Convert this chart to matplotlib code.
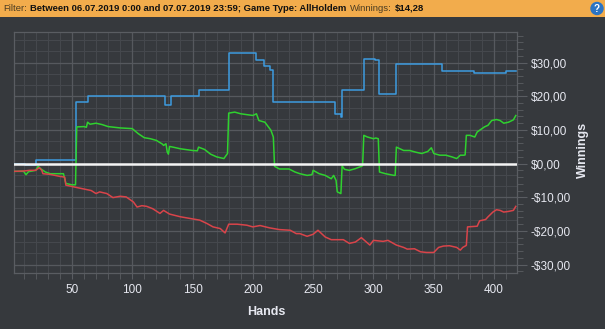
import matplotlib
matplotlib.use("Agg")
import matplotlib.pyplot as plt
import numpy as np
from matplotlib.ticker import FixedLocator, MultipleLocator, NullFormatter
from matplotlib.patches import Circle

# ---- data ----
blue_hands = [2, 11, 20, 53, 63, 127, 132, 155, 180, 203, 209, 214, 217,
              268, 273, 274, 292, 301, 305, 319, 357, 383, 410, 418]
blue_vals = [0.0, -0.3, 1.2, 18.2, 20.2, 17.5, 20.2, 22.0, 33.0, 30.9, 29.0, 27.7, 18.2,
             14.6, 13.8, 22.0, 31.2, 30.7, 20.6, 29.6, 27.4, 26.8, 27.4, 27.6]

green_hands = [2, 10, 12, 14, 20, 22, 24, 28, 32, 43, 45, 50, 53, 54, 60, 62, 63, 65, 70,
               75, 80, 90, 100, 105, 110, 115, 120, 125, 126, 128, 129, 130, 131, 135,
               140, 150, 154, 155, 160, 165, 170, 176, 179, 180, 185, 190, 200, 203, 205,
               210, 215, 217, 218, 222, 230, 235, 239, 245, 249, 250, 255, 260, 265, 267,
               269, 270, 273, 274, 276, 280, 285, 290, 291, 292, 295, 300, 302, 304, 305,
               310, 317, 318, 319, 325, 330, 335, 340, 345, 348, 350, 355, 360, 365, 369,
               372, 375, 376, 377, 380, 384, 386, 390, 392, 395, 398, 402, 405, 408, 412,
               416, 418]
green_vals = [-2.3, -2.3, -3.3, -2.4, -2.0, -0.8, -1.5, -2.5, -3.0, -3.0, -5.9, -6.3, -6.3,
              10.9, 11.0, 10.8, 12.3, 11.7, 12.0, 11.6, 11.0, 10.6, 10.4, 8.9, 7.7, 7.4,
              6.9, 5.8, 5.4, 5.9, 3.5, 2.8, 5.1, 4.8, 4.4, 3.9, 3.8, 4.9, 4.2, 2.8, 2.0,
              1.5, 3.0, 15.0, 15.3, 14.8, 14.3, 14.8, 12.8, 12.3, 9.9, 7.9, -0.8, -1.6,
              -1.6, -2.5, -3.0, -3.5, -3.3, -2.0, -3.0, -3.5, -4.5, -3.5, -5.0, -8.4,
              -8.9, -0.7, -1.7, -2.0, -1.5, -0.8, -0.6, 8.4, 7.9, 7.4, 7.6, 7.4, -2.5,
              -3.0, -3.5, -3.5, 4.9, 3.9, 3.9, 3.4, 3.0, 3.6, 4.7, 3.0, 2.5, 2.5, 2.0,
              1.5, 2.5, 2.5, 2.6, 8.4, 8.4, 7.9, 9.4, 10.4, 10.9, 11.4, 12.8, 13.1, 12.8,
              12.0, 12.3, 13.0, 14.28]

red_hands = [2, 10, 15, 20, 23, 25, 26, 32, 40, 44, 45, 50, 54, 62, 66, 70, 73, 79, 84,
             90, 95, 101, 104, 108, 112, 117, 123, 126, 131, 140, 148, 156, 162, 167,
             173, 177, 180, 187, 195, 200, 206, 214, 222, 231, 236, 239, 245, 250, 254,
             260, 265, 275, 280, 285, 290, 297, 300, 308, 312, 319, 325, 328, 334, 339,
             344, 350, 354, 358, 363, 369, 372, 374, 376, 377, 378, 386, 388, 393, 395,
             399, 402, 405, 408, 412, 416, 418]
red_vals = [-2.3, -2.2, -2.0, -2.0, -1.2, -2.0, -3.0, -3.2, -3.8, -4.0, -6.4, -6.8, -7.1,
            -7.7, -8.0, -8.9, -8.4, -8.9, -10.1, -9.7, -9.9, -11.4, -12.9, -12.5, -12.7,
            -13.4, -14.8, -13.9, -15.0, -15.8, -16.3, -16.8, -17.8, -18.8, -19.3, -20.6,
            -18.0, -18.0, -18.3, -18.8, -18.4, -19.1, -19.6, -19.8, -20.8, -20.8, -21.6,
            -21.0, -19.8, -21.8, -22.6, -22.6, -23.7, -23.3, -22.0, -24.2, -22.8, -23.1,
            -22.8, -24.2, -24.9, -25.4, -25.3, -26.2, -26.4, -26.4, -24.9, -24.5, -24.4,
            -24.9, -25.7, -24.9, -24.5, -24.3, -18.8, -18.6, -17.0, -16.6, -15.8, -14.4,
            -13.7, -13.9, -14.4, -14.2, -13.9, -12.7]

x_ticks = [50, 100, 150, 200, 250, 300, 350, 400]
y_ticks = [-30, -20, -10, 0, 10, 20, 30]
y_labels = ["-$30,00", "-$20,00", "-$10,00", "$0,00", "$10,00", "$20,00", "$30,00"]

header_parts = [("Filter:", "normal", "#4a3c22"),
                ("Between 06.07.2019 0:00 and 07.07.2019 23:59; Game Type: AllHoldem", "bold", "#111111"),
                ("Winnings:", "normal", "#4a3c22"),
                ("$14,28", "bold", "#111111")]

# ---- styling ----
bg = "#36393d"
txt = "#e6e8f0"
plt.rcParams["font.family"] = ["Liberation Sans", "DejaVu Sans"]

W, H = 605, 329
fig = plt.figure(figsize=(W / 100, H / 100), dpi=100, facecolor=bg)

ax = fig.add_axes([14 / W, (H - 273) / H, (517 - 14) / W, (273 - 32) / H])
ax.set_facecolor(bg)

ax.plot(blue_hands, blue_vals, color="#3d9be0", lw=1.1, drawstyle="steps-post", zorder=3)
ax.plot(green_hands, green_vals, color="#2fd12f", lw=1.1, zorder=3)
ax.plot(red_hands, red_vals, color="#d9444a", lw=1.1, zorder=3)
ax.axhline(0, color="#f4f4f4", lw=1.8, zorder=4)

ax.set_xlim(2, 419)
ax.set_ylim(-32.5, 39.1)

ax.xaxis.set_major_locator(FixedLocator(x_ticks))
ax.xaxis.set_minor_locator(MultipleLocator(10))
ax.yaxis.set_major_locator(FixedLocator(y_ticks))
ax.yaxis.set_minor_locator(MultipleLocator(2))
ax.set_yticklabels(y_labels)
ax.xaxis.set_minor_formatter(NullFormatter())
ax.yaxis.set_minor_formatter(NullFormatter())
ax.yaxis.tick_right()

# grid: vertical minor every 10 hands, horizontal minor at thirds of the major step
ax.grid(axis="x", which="minor", color="#45484d", lw=0.8, zorder=0)
ax.grid(which="major", color="#56595e", lw=0.9, zorder=0)
for yv in np.arange(-40, 40, 10 / 3):
    if abs(yv - round(yv / 10) * 10) > 0.1:
        ax.axhline(yv, color="#45484d", lw=0.8, zorder=0)
ax.set_axisbelow(True)

for s in ax.spines.values():
    s.set_color("#5a5d62")
    s.set_linewidth(0.9)

ax.tick_params(axis="both", which="both", colors="#5a5d62", labelcolor=txt, labelsize=8.5)
ax.tick_params(axis="y", which="major", length=7, pad=3)
ax.tick_params(axis="y", which="minor", length=4)
ax.tick_params(axis="x", which="both", length=4, pad=4)

fig.text(266 / W, 1 - 312 / H, "Hands", color=txt, fontsize=9, fontweight="bold",
         ha="center", va="center")
fig.text(583 / W, 1 - 150 / H, "Winnings", color=txt, fontsize=9, fontweight="bold",
         rotation=90, ha="center", va="center")

# ---- header bar ----
hax = fig.add_axes([0, 1 - 17 / H, 1, 17 / H])
hax.set_facecolor("#f2ac4c")
hax.set_xlim(0, W)
hax.set_ylim(0, 17)
hax.set_xticks([])
hax.set_yticks([])
for s in hax.spines.values():
    s.set_visible(False)

prev = None
for text, weight, col in header_parts:
    if prev is None:
        prev = hax.text(3, 8.5, text, fontsize=6.8, fontweight=weight, color=col,
                        va="center", ha="left")
    else:
        prev = hax.annotate(text, xy=(1, 0), xycoords=prev, xytext=(2.5, 0),
                            textcoords="offset points", fontsize=6.8, fontweight=weight,
                            color=col, va="bottom", ha="left")

hax.add_patch(Circle((597, 8.5), 6, color="#2b74c4", zorder=3))
hax.text(597, 8.3, "?", color="white", fontsize=7, fontweight="bold",
         ha="center", va="center", zorder=4)

fig.savefig("out.png", dpi=100, facecolor=bg)
